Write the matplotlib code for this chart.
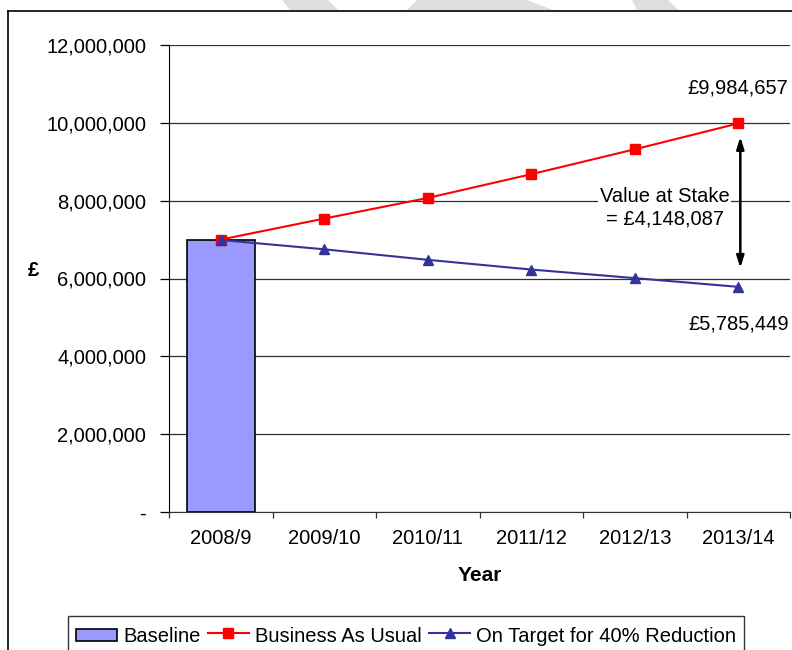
import matplotlib
matplotlib.use("Agg")
from matplotlib import pyplot as plt
from matplotlib.lines import Line2D
from matplotlib.patches import Polygon
import numpy as np

plt.rcParams['font.family'] = ['Liberation Sans', 'DejaVu Sans']
plt.rcParams['hatch.color'] = '#c4c4c4'
plt.rcParams['hatch.linewidth'] = 0.5

# datos
years = ["2008/9", "2009/10", "2010/11", "2011/12", "2012/13", "2013/14"]
baseline = [6990000]
business_as_usual = [7000000, 7540000, 8070000, 8680000, 9320000, 9984657]
on_target = [6990000, 6750000, 6480000, 6230000, 6010000, 5785449]
y_ticks = [0, 2000000, 4000000, 6000000, 8000000, 10000000, 12000000]
y_tick_labels = ["-", "2,000,000", "4,000,000", "6,000,000", "8,000,000", "10,000,000", "12,000,000"]
value_at_stake = 4148087

W, H = 792, 650
fig = plt.figure(figsize=(W / 100, H / 100), dpi=100)
ax = fig.add_axes([169 / W, 1 - 512 / H, (790 - 169) / W, (512 - 45) / H])

x = np.arange(len(years))

# barra base y las dos proyecciones
bars = ax.bar(x[:len(baseline)], baseline, width=0.66, color='#9999ff',
              edgecolor='black', linewidth=1.2, zorder=2, label="Baseline")
l1, = ax.plot(x, business_as_usual, color='#ff0000', lw=1.5, marker='s',
              markersize=6.5, zorder=3, label="Business As Usual")
l2, = ax.plot(x, on_target, color='#333399', lw=1.5, marker='^',
              markersize=7.5, zorder=3, label="On Target for 40% Reduction")

ax.set_xlim(-0.5, 5.5)
ax.set_ylim(0, 12000000)

# ejes y grilla
ax.set_yticks(y_ticks)
ax.set_yticklabels(y_tick_labels, fontsize=14.5)
ax.yaxis.grid(True, color='#303030', lw=0.9, zorder=0)
ax.tick_params(axis='y', length=6.5, width=0.9, pad=10, colors='black')
ax.set_xticks(x)
ax.set_xticklabels(years, fontsize=14.5)
ax.set_xticks(np.arange(-0.5, 6.0, 1.0), minor=True)
ax.tick_params(axis='x', which='major', length=0, pad=12)
ax.tick_params(axis='x', which='minor', length=4.5, width=0.9, color='#303030')
for s in ['top', 'right']:
    ax.spines[s].set_visible(False)
ax.spines['left'].set_color('black')
ax.spines['bottom'].set_color('#303030')

ax.set_xlabel("Year", fontsize=15, fontweight='bold', labelpad=13)
ax.set_ylabel("£", fontsize=14.5, fontweight='bold', rotation=0, labelpad=0)
ax.yaxis.set_label_coords(-136 / 621, (512 - 280) / 467)

# anotaciones
last = len(years) - 1
ax.text(x[last], business_as_usual[last] + 920000, "£{:,}".format(business_as_usual[last]),
        ha='center', va='center', fontsize=14.5)
ax.text(x[last], on_target[last] - 950000, "£{:,}".format(on_target[last]),
        ha='center', va='center', fontsize=14.5)
ax.text(4.29, 7810000, "Value at Stake\n= £{:,}".format(value_at_stake),
        ha='center', va='center', fontsize=14.5, linespacing=1.25,
        bbox=dict(facecolor='white', edgecolor='none', pad=1), zorder=4)
ax.annotate("", xy=(x[last] + 0.02, 9640000), xytext=(x[last] + 0.02, 6270000),
            arrowprops=dict(arrowstyle='<|-|>,head_width=0.22,head_length=0.7',
                            color='black', lw=1.8, shrinkA=0, shrinkB=0))

# leyenda
leg = fig.legend(handles=[bars, l1, l2], loc='upper left',
                 bbox_to_anchor=(68 / W, 1 - 616 / H), ncol=3, fontsize=14.5,
                 frameon=True, fancybox=False, edgecolor='black',
                 handlelength=2.05, handleheight=1.3, handletextpad=0.3,
                 columnspacing=0.35, borderpad=0.4, borderaxespad=0)
leg.get_frame().set_linewidth(1.0)
for p in leg.get_patches():
    h = p.get_height()
    p.set_y(p.get_y() + h * 0.22)
    p.set_height(h * 0.56)

# marco exterior
fig.add_artist(Line2D([8 / W, 8 / W], [0, 1 - 11 / H], color='black', lw=1.2,
                      transform=fig.transFigure))
fig.add_artist(Line2D([8 / W, 1], [1 - 11 / H, 1 - 11 / H], color='black', lw=1.2,
                      transform=fig.transFigure))

# marca de agua arriba
shapes = [
    [(282, 0), (328, 0), (338, 10), (290, 10)],
    [(417, 0), (527, 0), (553, 10), (407, 10)],
    [(632, 0), (668, 0), (678, 10), (637, 10)],
]
for pts in shapes:
    fig.add_artist(Polygon([(px / W, 1 - py / H) for px, py in pts], closed=True,
                           facecolor='#dedede', edgecolor='none', hatch='+',
                           transform=fig.transFigure, zorder=-1))

fig.savefig("out.png", dpi=100)
